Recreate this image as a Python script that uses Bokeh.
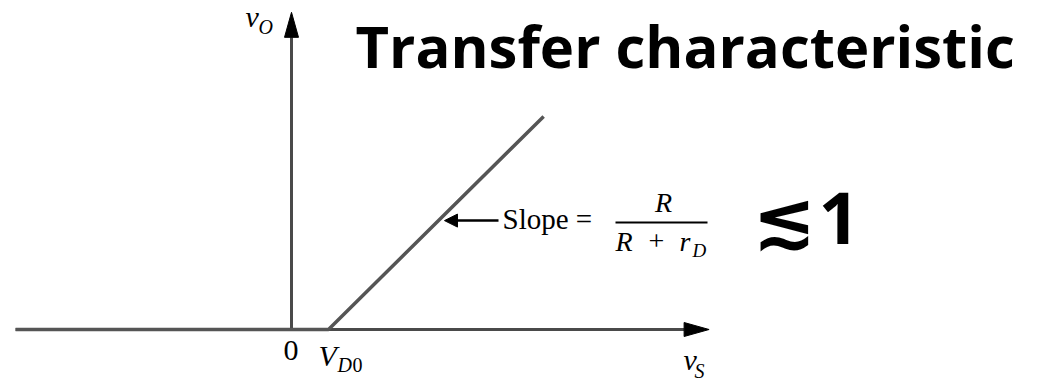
from bokeh.plotting import figure
from bokeh.models import Range1d, Arrow, NormalHead
from bokeh.core.properties import value
from bokeh.embed import file_html
from bokeh.resources import INLINE

# Diode transfer characteristic: v_O versus v_S (units of volts)
VD0 = 0.7                      # diode turn-on voltage V_D0
vs_curve = [-5.22, 0.7, 4.77]  # input voltage breakpoints
vo_curve = [0.0, 0.0, 4.03]    # output voltage at those points
vs_axis = [-5.22, 7.9]         # horizontal axis extent
vo_axis = [0.0, 6.0]           # vertical axis extent

W, H = 1041, 382
K = 52.86                      # screen pixels per volt
OX, OY = 291, 329              # screen position of the origin

p = figure(width=W, height=H, output_backend="svg", toolbar_location=None,
           x_range=Range1d(-OX / K, (W - OX) / K),
           y_range=Range1d(-(H - OY) / K, OY / K),
           min_border=0)
p.axis.visible = False
p.grid.visible = False
p.outline_line_color = None
p.background_fill_color = "white"
p.border_fill_color = "white"


def dx(px):
    return (px - OX) / K


def dy(py):
    return (OY - py) / K


HEAD_LEN = 25 / K
HEAD_HALF = 7 / K
AXIS_COLOR = "#4a4a4a"

# axes
p.line([vs_axis[0], vs_axis[1] - HEAD_LEN], [0, 0], line_color=AXIS_COLOR, line_width=3)
p.line([0, 0], [vo_axis[0], vo_axis[1] - HEAD_LEN], line_color=AXIS_COLOR, line_width=3)
p.patch([vs_axis[1], vs_axis[1] - HEAD_LEN, vs_axis[1] - HEAD_LEN],
        [0, HEAD_HALF, -HEAD_HALF], fill_color="black", line_color="black")
p.patch([0, HEAD_HALF, -HEAD_HALF],
        [vo_axis[1], vo_axis[1] - HEAD_LEN, vo_axis[1] - HEAD_LEN],
        fill_color="black", line_color="black")

# transfer curve
p.line(vs_curve, vo_curve, line_color="#555555", line_width=3.5)

serif = value("Liberation Serif")


def label(x, y, s, size, style="normal", align="left", font=serif, color="black"):
    # y is the intended baseline; lift by the renderer's baseline drop
    lift = 0.4 * size / K
    p.text(x=[x], y=[y + lift], text=[s], text_font=font, text_font_size=f"{size}px",
           text_font_style=style, text_align=align, text_baseline="alphabetic",
           text_color=color)


# axis labels
label(dx(245), dy(28), "v", 30, "italic")
label(dx(258), dy(34), "O", 20, "italic")
label(dx(683), dy(371), "v", 30, "italic")
label(dx(694), dy(378), "S", 20, "italic")
label(dx(283), dy(362), "0", 30)
label(dx(318), dy(367), "V", 30, "italic")
label(dx(337), dy(372), "D", 20, "italic")
label(dx(352), dy(372), "0", 20)

# slope annotation
y_ann = 2.06
x_tip = VD0 + y_ann / (vo_curve[2] / (vs_curve[2] - VD0)) + 6 / K
p.add_layout(Arrow(end=NormalHead(size=13, fill_color="black", line_color="black"),
                   x_start=dx(498), y_start=y_ann, x_end=x_tip, y_end=y_ann,
                   line_color="black", line_width=2.5))
label(dx(502), dy(230), "Slope =", 29)
label(dx(663), dy(213), "R", 28, "italic", align="center")
p.line([dx(615), dx(707)], [dy(222), dy(222)], line_color="black", line_width=2)
label(dx(615), dy(252), "R", 28, "italic")
label(dx(648), dy(252), "+", 28)
label(dx(679), dy(252), "r", 28, "italic")
label(dx(692), dy(258), "D", 19, "italic")

# handwritten notes
label(dx(355), dy(68), "Transfer characteristic", 58, "bold", font=value("Open Sans"))
label(dx(752), dy(248), "\u2272", 76, "bold", font=value("DejaVu Sans"))
label(dx(818), dy(246), "1", 72, "bold", font=value("Open Sans"))

open("out.html", "w").write(file_html(p, INLINE))
